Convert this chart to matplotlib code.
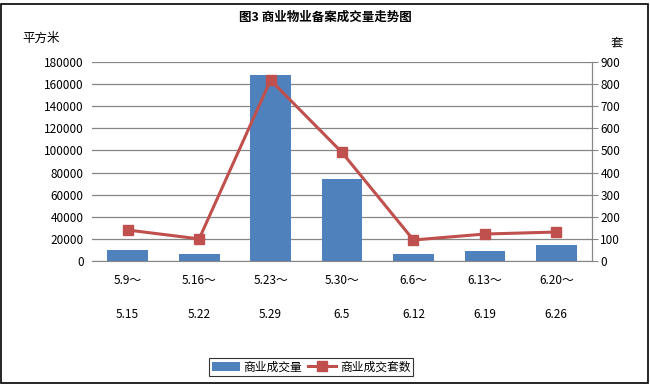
import matplotlib.pyplot as plt
from matplotlib.patches import Rectangle

plt.rcParams['font.family'] = ['Noto Sans CJK SC', 'DejaVu Sans']

periods_start = ['5.9～', '5.16～', '5.23～', '5.30～', '6.6～', '6.13～', '6.20～']
periods_end = ['5.15', '5.22', '5.29', '6.5', '6.12', '6.19', '6.26']
area = [10000, 6300, 168500, 74000, 6300, 9000, 14500]
units = [140, 100, 818, 491, 95, 122, 131]

BLUE = '#4f81bd'
RED = '#c0504d'
GRID = '#868686'

fig = plt.figure(figsize=(6.5, 3.84), dpi=100)
ax = fig.add_axes([92 / 650, 1 - 261 / 384, 500 / 650, 199 / 384])
ax2 = ax.twinx()

x = list(range(len(area)))
ax.bar(x, area, width=0.57, color=BLUE, zorder=2, label='商业成交量')
ax2.plot(x, units, color=RED, linewidth=2.2, marker='s', markersize=7,
         markerfacecolor=RED, markeredgecolor=RED, zorder=3, label='商业成交套数')

ax.set_xlim(-0.5, len(area) - 0.5)
ax.set_ylim(0, 180000)
ax.set_yticks(range(0, 180001, 20000))
ax2.set_ylim(0, 900)
ax2.set_yticks(range(0, 901, 100))
ax.grid(axis='y', color=GRID, linewidth=0.9, zorder=0)
ax.set_axisbelow(True)

ax.set_xticks(x)
ax.set_xticklabels([f'{a}\n\n{b}' for a, b in zip(periods_start, periods_end)],
                   fontsize=8.5, linespacing=1.45)
ax.tick_params(axis='x', length=0, pad=9)
ax.tick_params(axis='y', length=0, labelsize=8.5, pad=6)
ax2.tick_params(axis='y', length=4, color=GRID, labelsize=8.5, pad=2)

for a in (ax, ax2):
    for s in ('top', 'left'):
        a.spines[s].set_visible(False)
    a.spines['bottom'].set_color(GRID)
    a.spines['right'].set_color(GRID)
ax2.spines['bottom'].set_visible(False)

fig.text(0.5, 1 - 17 / 384, '图3 商业物业备案成交量走势图', ha='center', va='center',
         fontsize=9, fontweight='bold')
fig.text(22 / 650, 1 - 38 / 384, '平方米', ha='left', va='center', fontsize=9)
fig.text(617 / 650, 1 - 43 / 384, '套', ha='center', va='center', fontsize=9)

h1, l1 = ax.get_legend_handles_labels()
h2, l2 = ax2.get_legend_handles_labels()
leg = fig.legend(h1 + h2, l1 + l2, loc='center', bbox_to_anchor=(311 / 650, 1 - 367 / 384),
                 ncol=2, fontsize=8.5, frameon=True, fancybox=False, handlelength=2.4,
                 handletextpad=0.3, columnspacing=0.5, borderpad=0.25)
leg.get_frame().set_edgecolor('black')
leg.get_frame().set_linewidth(0.8)

fig.patches.append(Rectangle((1 / 650, 1 / 384), 647 / 650, 379 / 384, transform=fig.transFigure,
                             fill=False, edgecolor='black', linewidth=1.2))

fig.savefig('out.png', dpi=100)
